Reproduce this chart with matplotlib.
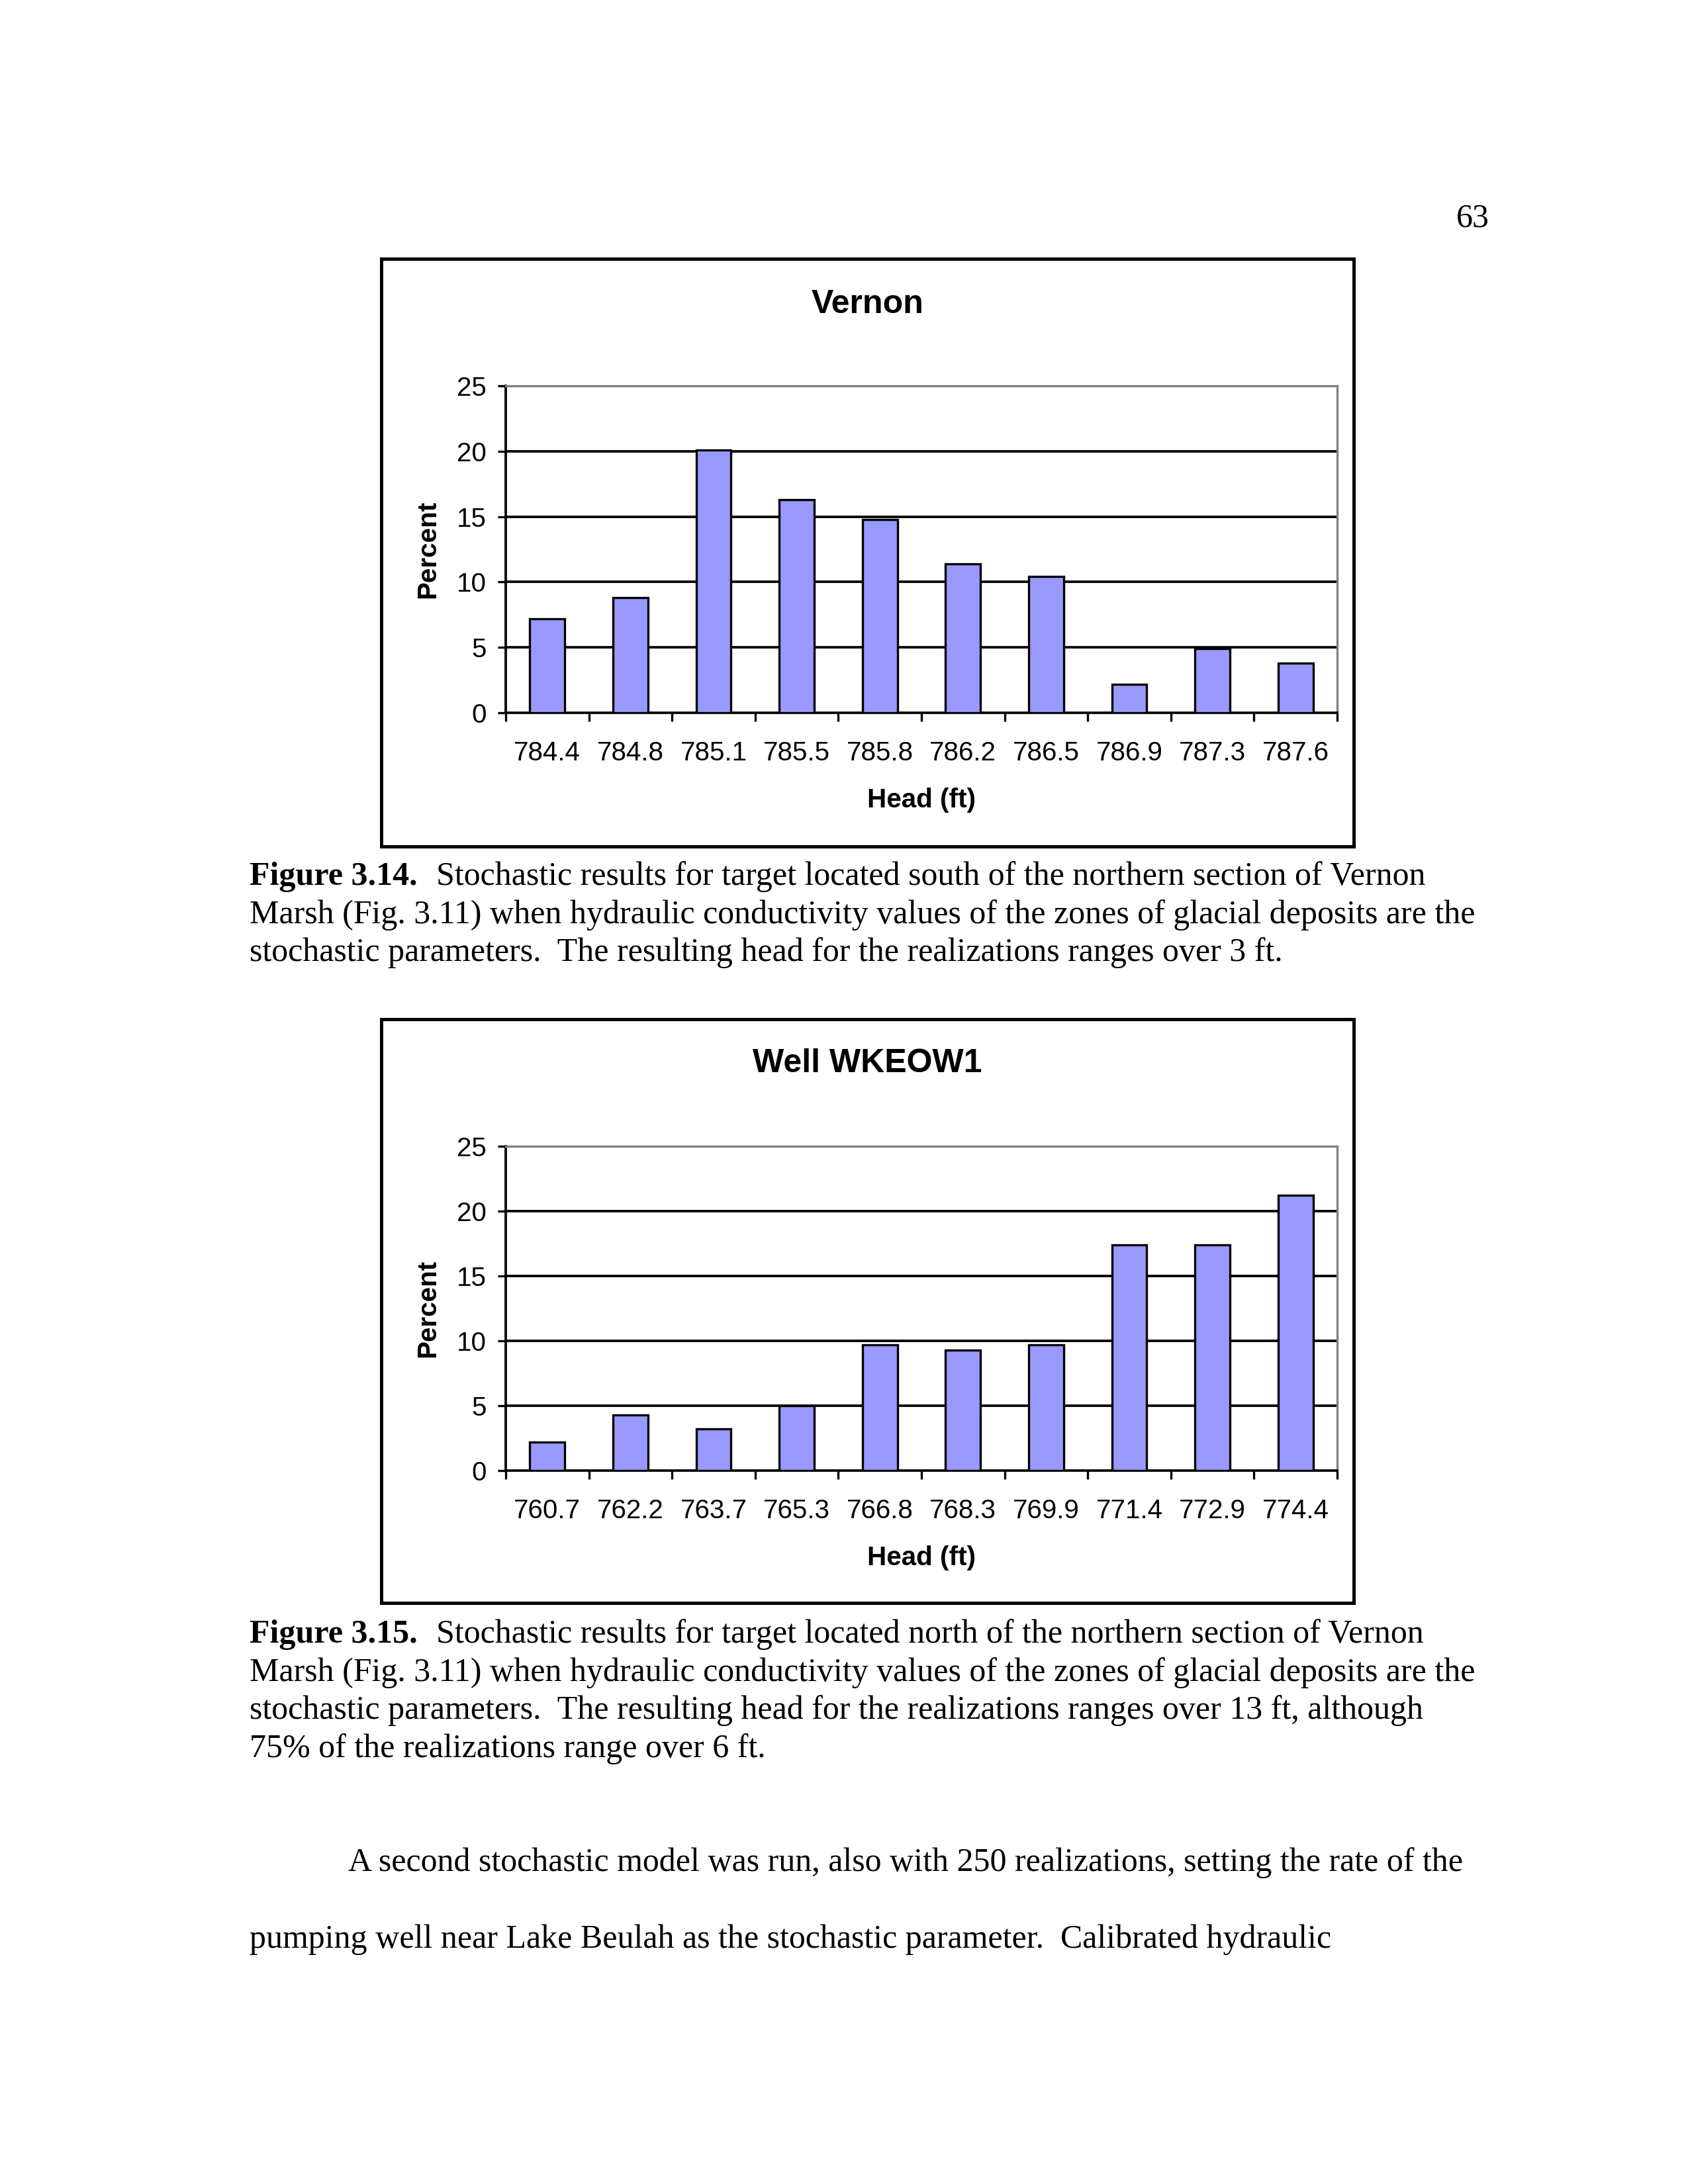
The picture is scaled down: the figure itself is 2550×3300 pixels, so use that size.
import numpy as np
import matplotlib.pyplot as plt
from matplotlib.patches import Rectangle

# chart data
vernon_heads = ["784.4", "784.8", "785.1", "785.5", "785.8", "786.2", "786.5", "786.9", "787.3", "787.6"]
vernon_pct = [7.2, 8.8, 20.1, 16.3, 14.8, 11.4, 10.4, 2.2, 4.9, 3.8]
well_heads = ["760.7", "762.2", "763.7", "765.3", "766.8", "768.3", "769.9", "771.4", "772.9", "774.4"]
well_pct = [2.2, 4.3, 3.2, 5.0, 9.7, 9.3, 9.7, 17.4, 17.4, 21.2]

W, H = 2550, 3300
fig = plt.figure(figsize=(8.5, 11), dpi=300)
serif = "Liberation Serif"
sans = "Liberation Sans"
fs = 9.7


def px(x, y):
    return x / W, 1 - y / H


def chart(box, area, title_y, title, heads, pct):
    x0, y0, x1, y1 = box
    fig.patches.append(Rectangle(px(x0, y1), (x1 - x0) / W, (y1 - y0) / H,
                                 transform=fig.transFigure, fill=False,
                                 edgecolor="black", linewidth=1.2))
    l, t, r, b = area
    ax = fig.add_axes([l / W, 1 - b / H, (r - l) / W, (b - t) / H])
    x = np.arange(len(heads))
    ax.bar(x, pct, width=0.42, color="#9999FF", edgecolor="black", linewidth=0.8, zorder=3)
    ax.set_xlim(-0.5, len(heads) - 0.5)
    ax.set_ylim(0, 25)
    ax.set_yticks([0, 5, 10, 15, 20, 25])
    for v in [5, 10, 15, 20]:
        ax.axhline(v, color="black", linewidth=0.9, zorder=1)
    ax.spines["top"].set_color("#808080")
    ax.spines["right"].set_color("#808080")
    ax.spines["left"].set_linewidth(0.9)
    ax.spines["bottom"].set_linewidth(0.9)
    ax.set_xticks(x)
    ax.set_xticklabels(heads, fontfamily=sans, fontsize=fs)
    ax.set_xticks(np.arange(-0.5, len(heads)), minor=True)
    ax.tick_params(axis="x", which="major", length=0, pad=10)
    ax.tick_params(axis="x", which="minor", length=3, width=0.8, direction="out")
    ax.tick_params(axis="y", length=3, width=0.8, pad=4, labelsize=fs)
    for lab in ax.get_yticklabels():
        lab.set_fontfamily(sans)
    ax.set_ylabel("Percent", fontfamily=sans, fontsize=fs, fontweight="bold", labelpad=6)
    ax.set_xlabel("Head (ft)", fontfamily=sans, fontsize=fs, fontweight="bold", labelpad=8)
    fig.text((x0 + x1) / 2 / W, 1 - title_y / H, title, ha="center", va="center",
             fontfamily=sans, fontsize=12, fontweight="bold")
    return ax


chart((576, 391, 2045, 1279), (764, 583, 2020, 1077), 460, "Vernon", vernon_heads, vernon_pct)
chart((576, 1540, 2045, 2422), (764, 1732, 2020, 2222), 1607, "Well WKEOW1", well_heads, well_pct)

fig.text(*px(2250, 330), "63", ha="right", va="center", fontfamily=serif, fontsize=12)

renderer = fig.canvas.get_renderer()


def caption(y, bold, lines):
    t = fig.text(*px(377, y), bold, ha="left", va="center", fontfamily=serif,
                 fontsize=12, fontweight="bold")
    bb = t.get_window_extent(renderer)
    fig.text((bb.x1 + 28) / W, 1 - y / H, lines[0], ha="left", va="center",
             fontfamily=serif, fontsize=12)
    for i, line in enumerate(lines[1:], 1):
        fig.text(*px(377, y + 57.5 * i), line, ha="left", va="center",
                 fontfamily=serif, fontsize=12)


caption(1325, "Figure 3.14.", [
    "Stochastic results for target located south of the northern section of Vernon",
    "Marsh (Fig. 3.11) when hydraulic conductivity values of the zones of glacial deposits are the",
    "stochastic parameters.  The resulting head for the realizations ranges over 3 ft.",
])
caption(2470, "Figure 3.15.", [
    "Stochastic results for target located north of the northern section of Vernon",
    "Marsh (Fig. 3.11) when hydraulic conductivity values of the zones of glacial deposits are the",
    "stochastic parameters.  The resulting head for the realizations ranges over 13 ft, although",
    "75% of the realizations range over 6 ft.",
])

fig.text(*px(526, 2815), "A second stochastic model was run, also with 250 realizations, setting the rate of the",
         ha="left", va="center", fontfamily=serif, fontsize=12)
fig.text(*px(377, 2931), "pumping well near Lake Beulah as the stochastic parameter.  Calibrated hydraulic",
         ha="left", va="center", fontfamily=serif, fontsize=12)

fig.savefig("out.png", dpi=300)
